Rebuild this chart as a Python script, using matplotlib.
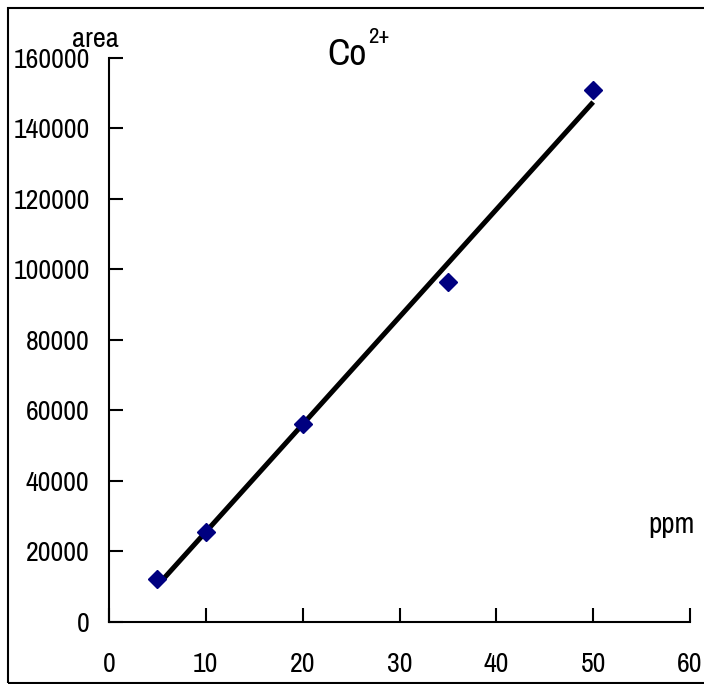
import numpy as np
import matplotlib
matplotlib.use("Agg")
import matplotlib.pyplot as plt
from matplotlib.patches import Rectangle

plt.rcParams['font.family'] = ['Archivo Narrow', 'Liberation Sans', 'DejaVu Sans']

ppm = [5, 10, 20, 35, 50]
area = [12000, 25500, 56000, 96500, 151000]
x_ticks = [0, 10, 20, 30, 40, 50, 60]
y_ticks = [0, 20000, 40000, 60000, 80000, 100000, 120000, 140000, 160000]

W, H = 704, 684
fig = plt.figure(figsize=(7.04, 6.84), dpi=100)
ax = fig.add_axes([109 / W, 0.0911, 581 / W, 0.8241])

# linear trendline like the spreadsheet one
k, b = np.polyfit(ppm, area, 1)
xs = np.array([min(ppm), max(ppm)])
ax.plot(xs, k * xs + b, color='black', lw=3.6, solid_capstyle='butt', zorder=2)
ax.plot(ppm, area, linestyle='none', marker='D', ms=9, color='#000080', zorder=3, clip_on=False)

ax.set_xlim(0, 60)
ax.set_ylim(0, 160000)
ax.set_xticks(x_ticks)
ax.set_yticks(y_ticks)
ax.spines['top'].set_visible(False)
ax.spines['right'].set_visible(False)
for s in ['left', 'bottom']:
    ax.spines[s].set_linewidth(1.5)
ax.tick_params(direction='in', length=10, width=1.5, labelsize=20)
ax.tick_params(axis='y', pad=14)
ax.tick_params(axis='x', pad=22)

fig.text(72 / W, 1 - 47 / H, 'area', fontsize=20.5, va='baseline', ha='left')
fig.text(327 / W, 1 - 65 / H, 'Co', fontsize=27, va='baseline', ha='left')
fig.text(368 / W, 1 - 43 / H, '2+', fontsize=16.5, va='baseline', ha='left')
fig.text(648 / W, 1 - 533 / H, 'ppm', fontsize=21, va='baseline', ha='left')

fig.patches.append(Rectangle((8 / W, 1 / H), 1.0, 675 / H, transform=fig.transFigure,
                             fill=False, edgecolor='black', lw=1.5))

fig.savefig('out.png', dpi=100)
